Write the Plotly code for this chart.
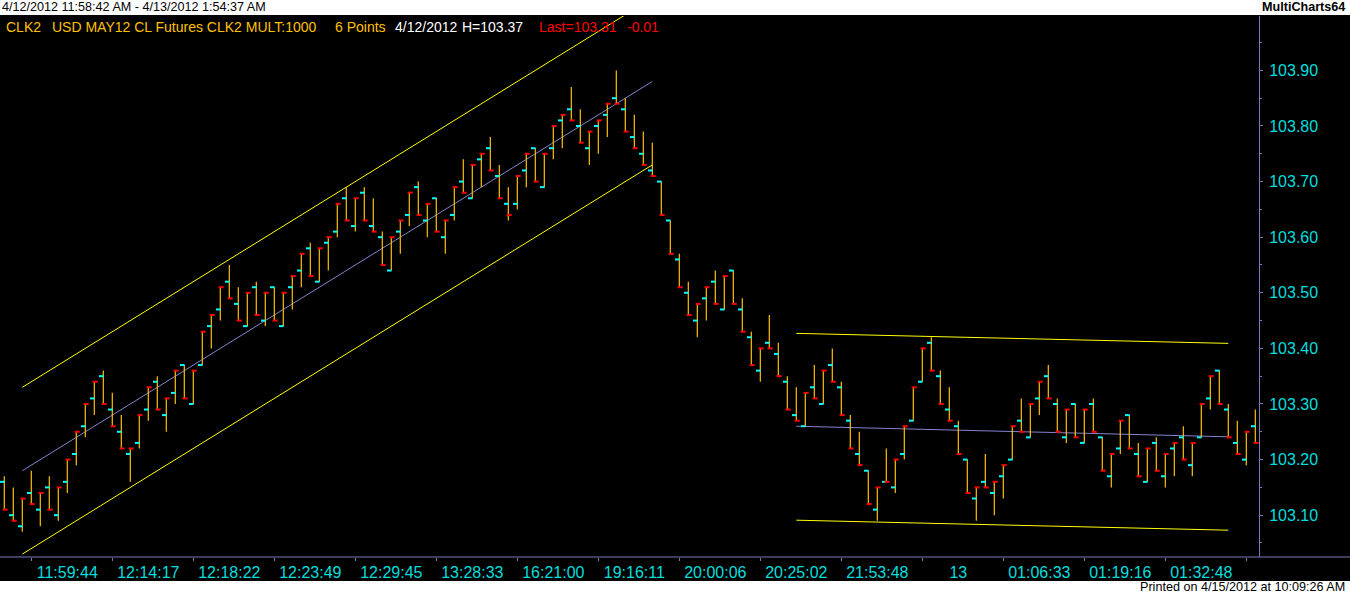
import plotly.graph_objects as go

# 6 point range bars, CLK2, 4/12/2012 - 4/13/2012
opens = [
    103.16, 103.10, 103.08, 103.14, 103.11, 103.15, 103.10, 103.16, 103.21, 103.26,
    103.31, 103.35, 103.29, 103.25, 103.21, 103.23, 103.29, 103.34, 103.28, 103.32,
    103.37, 103.30, 103.37, 103.44, 103.47, 103.52, 103.48, 103.44, 103.51, 103.45,
    103.51, 103.44, 103.51, 103.54, 103.58, 103.52, 103.59, 103.61, 103.67, 103.62,
    103.68, 103.62, 103.60, 103.54, 103.61, 103.64, 103.69, 103.63, 103.67, 103.60,
    103.64, 103.70, 103.67, 103.74, 103.76, 103.71, 103.66, 103.66, 103.72, 103.76,
    103.69, 103.76, 103.81, 103.83, 103.80, 103.76, 103.80, 103.82, 103.85, 103.83,
    103.78, 103.75, 103.72, 103.70, 103.63, 103.56, 103.50, 103.45, 103.49, 103.52,
    103.47, 103.54, 103.47, 103.42, 103.36, 103.41, 103.39, 103.34, 103.28, 103.26,
    103.33, 103.30, 103.37, 103.33, 103.27, 103.21, 103.18, 103.11, 103.16, 103.15,
    103.21, 103.27, 103.34, 103.41, 103.35, 103.29, 103.26, 103.20, 103.13, 103.16,
    103.14, 103.17, 103.20, 103.27, 103.24, 103.31, 103.35, 103.30, 103.24, 103.30,
    103.23, 103.30, 103.24, 103.17, 103.22, 103.28, 103.21, 103.16, 103.23, 103.17,
    103.22, 103.24, 103.19, 103.24, 103.31, 103.36, 103.29, 103.23, 103.20, 103.26,
]
highs = [
    103.17, 103.15, 103.13, 103.18, 103.14, 103.17, 103.15, 103.20, 103.25, 103.30,
    103.34, 103.36, 103.32, 103.28, 103.22, 103.28, 103.33, 103.35, 103.31, 103.36,
    103.37, 103.36, 103.43, 103.46, 103.51, 103.55, 103.51, 103.50, 103.52, 103.50,
    103.51, 103.50, 103.53, 103.57, 103.59, 103.58, 103.60, 103.66, 103.69, 103.67,
    103.69, 103.67, 103.61, 103.60, 103.63, 103.68, 103.70, 103.66, 103.67, 103.63,
    103.69, 103.74, 103.73, 103.75, 103.78, 103.73, 103.69, 103.71, 103.75, 103.76,
    103.75, 103.80, 103.82, 103.87, 103.83, 103.79, 103.81, 103.84, 103.90, 103.85,
    103.82, 103.79, 103.77, 103.70, 103.63, 103.57, 103.52, 103.48, 103.51, 103.54,
    103.53, 103.54, 103.49, 103.43, 103.40, 103.46, 103.41, 103.35, 103.33, 103.32,
    103.37, 103.36, 103.40, 103.34, 103.28, 103.25, 103.18, 103.15, 103.22, 103.20,
    103.26, 103.33, 103.40, 103.42, 103.36, 103.33, 103.27, 103.20, 103.15, 103.21,
    103.16, 103.19, 103.26, 103.31, 103.30, 103.34, 103.37, 103.31, 103.29, 103.30,
    103.29, 103.31, 103.24, 103.21, 103.27, 103.28, 103.23, 103.22, 103.24, 103.21,
    103.23, 103.26, 103.23, 103.30, 103.35, 103.36, 103.30, 103.27, 103.25, 103.29,
]
lows = [
    103.11, 103.09, 103.07, 103.12, 103.08, 103.11, 103.09, 103.14, 103.19, 103.24,
    103.28, 103.30, 103.26, 103.22, 103.16, 103.22, 103.27, 103.29, 103.25, 103.30,
    103.31, 103.30, 103.37, 103.40, 103.45, 103.49, 103.45, 103.44, 103.46, 103.44,
    103.45, 103.44, 103.47, 103.51, 103.53, 103.52, 103.54, 103.60, 103.63, 103.61,
    103.63, 103.61, 103.55, 103.54, 103.57, 103.62, 103.64, 103.60, 103.61, 103.57,
    103.63, 103.68, 103.67, 103.69, 103.72, 103.67, 103.63, 103.65, 103.69, 103.70,
    103.69, 103.74, 103.76, 103.81, 103.77, 103.73, 103.75, 103.78, 103.84, 103.79,
    103.76, 103.73, 103.71, 103.64, 103.57, 103.51, 103.46, 103.42, 103.45, 103.48,
    103.47, 103.48, 103.43, 103.37, 103.34, 103.40, 103.35, 103.29, 103.27, 103.26,
    103.31, 103.30, 103.34, 103.28, 103.22, 103.19, 103.12, 103.09, 103.16, 103.14,
    103.20, 103.27, 103.34, 103.36, 103.30, 103.27, 103.21, 103.14, 103.09, 103.15,
    103.10, 103.13, 103.20, 103.25, 103.24, 103.28, 103.31, 103.25, 103.23, 103.24,
    103.23, 103.25, 103.18, 103.15, 103.21, 103.22, 103.17, 103.16, 103.18, 103.15,
    103.17, 103.20, 103.17, 103.24, 103.29, 103.30, 103.24, 103.21, 103.19, 103.23,
]
closes = [
    103.11, 103.09, 103.13, 103.12, 103.14, 103.11, 103.15, 103.20, 103.25, 103.30,
    103.34, 103.30, 103.26, 103.22, 103.22, 103.28, 103.33, 103.29, 103.31, 103.36,
    103.31, 103.36, 103.43, 103.46, 103.51, 103.49, 103.45, 103.50, 103.46, 103.50,
    103.45, 103.50, 103.53, 103.57, 103.53, 103.58, 103.60, 103.66, 103.63, 103.67,
    103.63, 103.61, 103.55, 103.60, 103.63, 103.68, 103.64, 103.66, 103.61, 103.63,
    103.69, 103.68, 103.73, 103.75, 103.72, 103.67, 103.64, 103.71, 103.75, 103.70,
    103.75, 103.80, 103.82, 103.81, 103.77, 103.79, 103.81, 103.84, 103.84, 103.79,
    103.76, 103.73, 103.71, 103.64, 103.57, 103.51, 103.46, 103.48, 103.51, 103.48,
    103.53, 103.48, 103.43, 103.37, 103.40, 103.40, 103.35, 103.29, 103.27, 103.32,
    103.31, 103.36, 103.34, 103.28, 103.22, 103.19, 103.12, 103.15, 103.16, 103.20,
    103.26, 103.33, 103.40, 103.36, 103.30, 103.27, 103.21, 103.14, 103.15, 103.15,
    103.16, 103.19, 103.26, 103.25, 103.30, 103.34, 103.31, 103.25, 103.29, 103.24,
    103.29, 103.25, 103.18, 103.21, 103.27, 103.22, 103.17, 103.22, 103.18, 103.21,
    103.23, 103.20, 103.23, 103.30, 103.35, 103.30, 103.24, 103.21, 103.25, 103.23,
]

time_labels = [
    "11:59:44", "12:14:17", "12:18:22", "12:23:49", "12:29:45", "13:28:33",
    "16:21:00", "19:16:11", "20:00:06", "20:25:02", "21:53:48", "13",
    "01:06:33", "01:19:16", "01:32:48", "",
]
time_bars = [3, 12, 21, 30, 39, 48, 57, 66, 75, 84, 93, 102, 111, 120, 129, 138]

# trend channels (bar index -> price)
chan1_x = [2, 72]
chan1_upper = [103.33, 104.03]
chan1_mid = [103.18, 103.88]
chan1_lower = [103.03, 103.73]
chan2_x = [88, 136]
chan2_upper = [103.427, 103.409]
chan2_mid = [103.260, 103.241]
chan2_lower = [103.091, 103.073]

W, H = 1350, 594
PLOT_W, PLOT_TOP, PLOT_BOT = 1259, 16, 557
PLOT_H = PLOT_BOT - PLOT_TOP
AXIS = "#7a7ab8"
TXT = "#00dede"
FONT = "Liberation Sans, Arial, sans-serif"


def px(x):
    return x / PLOT_W


def py(y):
    return (PLOT_BOT - y) / PLOT_H


bar_x, bar_y, open_x, open_y, close_x, close_y = [], [], [], [], [], []
for i in range(len(opens)):
    bar_x += [i, i, None]
    bar_y += [lows[i], highs[i], None]
    open_x += [i - 0.48, i + 0.03, None]
    open_y += [opens[i], opens[i], None]
    close_x += [i - 0.19, i + 0.37, None]
    close_y += [closes[i], closes[i], None]

fig = go.Figure()
for xs, ys, col in [
    (chan1_x, chan1_upper, "#ffff00"), (chan1_x, chan1_lower, "#ffff00"),
    (chan1_x, chan1_mid, "#8484cc"),
    (chan2_x, chan2_upper, "#ffff00"), (chan2_x, chan2_lower, "#ffff00"),
    (chan2_x, chan2_mid, "#8484cc"),
]:
    fig.add_trace(go.Scatter(x=xs, y=ys, mode="lines", line=dict(color=col, width=1),
                             hoverinfo="skip"))

fig.add_trace(go.Scatter(x=bar_x, y=bar_y, mode="lines",
                         line=dict(color="#ffc000", width=1.2)))
fig.add_trace(go.Scatter(x=open_x, y=open_y, mode="lines",
                         line=dict(color="#00ffff", width=2)))
fig.add_trace(go.Scatter(x=close_x, y=close_y, mode="lines",
                         line=dict(color="#ff0000", width=2)))

# black chart window behind the plot + extended time axis line
fig.add_shape(type="rect", xref="paper", yref="paper", x0=0, x1=px(W),
              y0=py(581), y1=py(15), fillcolor="black", line_width=0, layer="below")
fig.add_shape(type="line", xref="paper", yref="paper", x0=0, x1=px(W),
              y0=0, y1=0, line=dict(color=AXIS, width=1))

ann = [
    (0, 7, "4/12/2012 11:58:42 AM - 4/13/2012 1:54:37 AM", "black", "left", False, 12.6),
    (1347, 7, "MultiCharts64", "black", "right", True, 12.6),
    (1347, 587, "Printed on 4/15/2012 at 10:09:26 AM", "black", "right", False, 12.6),
    (4, 27, "CLK2", "#ffc000", "left", False, 14),
    (50, 27, "USD MAY12 CL Futures CLK2 MULT:1000", "#ffc000", "left", False, 14),
    (333, 27, "6 Points", "#ffc000", "left", False, 14),
    (393, 27, "4/12/2012", "white", "left", False, 14),
    (460, 27, "H=103.37", "white", "left", False, 14),
    (537, 27, "Last=103.31", "#ff0000", "left", False, 14),
    (625, 27, "-0.01", "#ff0000", "left", False, 14),
]
for x, y, t, c, anchor, bold, size in ann:
    fig.add_annotation(xref="paper", yref="paper", x=px(x), y=py(y),
                       text="<b>%s</b>" % t if bold else t, showarrow=False,
                       xanchor=anchor, yanchor="middle",
                       font=dict(family=FONT, size=size, color=c))

fig.update_layout(
    width=W, height=H, showlegend=False,
    margin=dict(l=0, r=W - PLOT_W, t=PLOT_TOP, b=H - PLOT_BOT, pad=0),
    paper_bgcolor="white", plot_bgcolor="black",
    xaxis=dict(range=[-0.478, 139.41], showgrid=False, zeroline=False,
               showline=False, ticks="outside", ticklen=3, tickcolor=AXIS,
               tickvals=time_bars, ticktext=time_labels, ticklabelshift=36,
               ticklabelstandoff=-2,
               tickfont=dict(family=FONT, size=16, color=TXT)),
    yaxis=dict(range=[103.0248, 103.9978], side="right", showgrid=False,
               zeroline=False, showline=True, linecolor=AXIS, linewidth=1,
               ticks="outside", ticklen=3, tickcolor=AXIS,
               tickvals=[103.1, 103.2, 103.3, 103.4, 103.5, 103.6, 103.7, 103.8, 103.9],
               tickformat=".2f", ticklabelstandoff=3,
               minor=dict(ticks="outside", ticklen=2, tickcolor=AXIS,
                          tickvals=[103.05, 103.15, 103.25, 103.35, 103.45,
                                    103.55, 103.65, 103.75, 103.85, 103.95]),
               tickfont=dict(family=FONT, size=16, color=TXT)),
)

fig.write_html("out.html", config={"displayModeBar": False},
               post_script="document.body.style.margin='0px';")
